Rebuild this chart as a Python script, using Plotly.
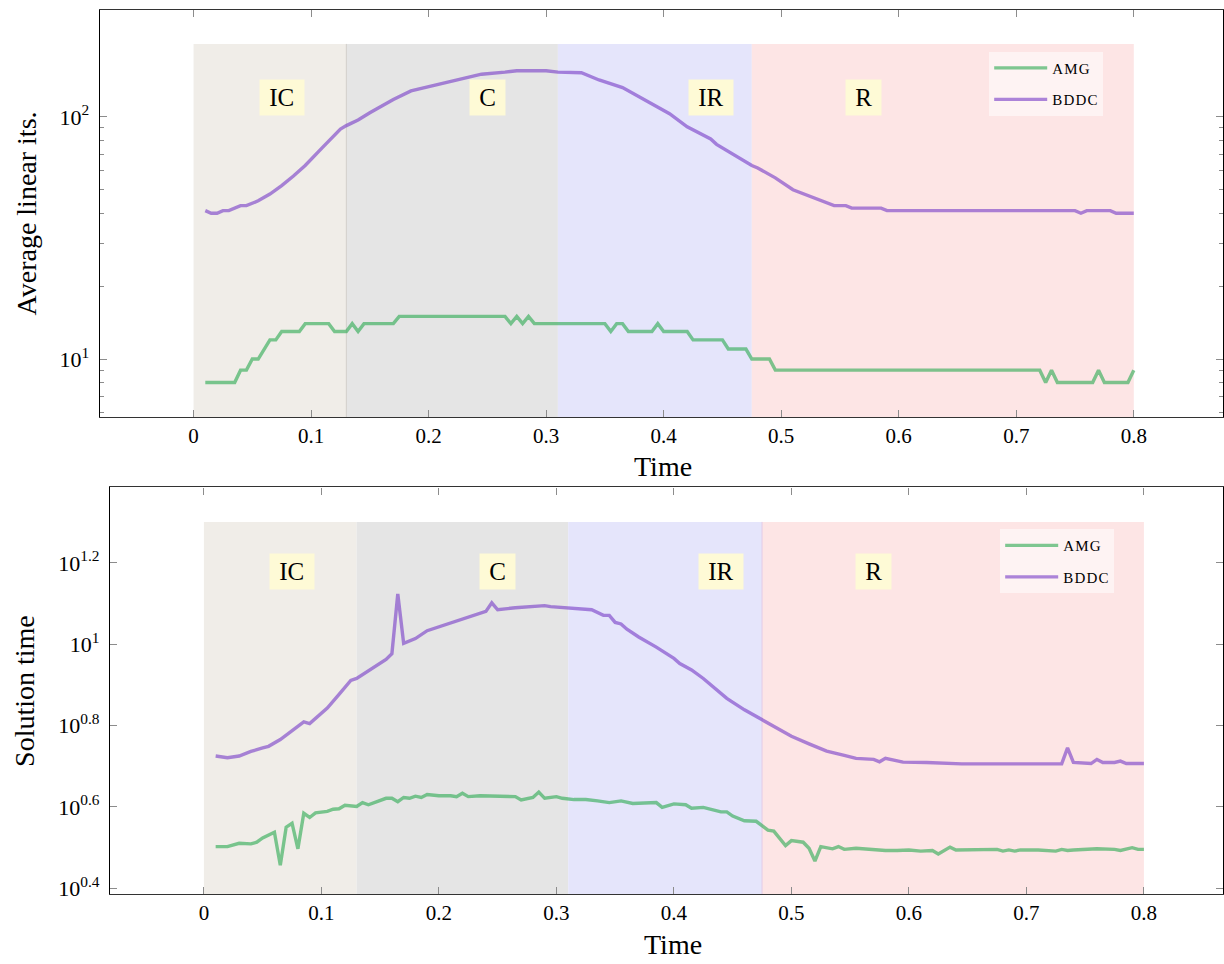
import math
import plotly.graph_objects as go

# ---------------- data ----------------
# Top panel: average linear iterations
amg_its_t = [0.01, 0.035, 0.04, 0.045, 0.05, 0.055, 0.065, 0.07, 0.075, 0.09,
             0.095, 0.115, 0.12, 0.13, 0.135, 0.14, 0.145, 0.17, 0.175, 0.265,
             0.27, 0.275, 0.28, 0.285, 0.29, 0.35, 0.355, 0.36, 0.365, 0.37,
             0.39, 0.395, 0.40, 0.42, 0.425, 0.45, 0.455, 0.47, 0.475, 0.49,
             0.495, 0.72, 0.725, 0.73, 0.735, 0.765, 0.77, 0.775, 0.795, 0.80]
amg_its = [8, 8, 9, 9, 10, 10, 12, 12, 13, 13,
           14, 14, 13, 13, 14, 13, 14, 14, 15, 15,
           14, 15, 14, 15, 14, 14, 13, 14, 14, 13,
           13, 14, 13, 13, 12, 12, 11, 11, 10, 10,
           9, 9, 8, 9, 8, 8, 9, 8, 8, 9]

bddc_its_t = [0.01, 0.015, 0.02, 0.025, 0.03, 0.04, 0.045, 0.055, 0.065, 0.075,
              0.085, 0.095, 0.11, 0.125, 0.13, 0.14, 0.15, 0.16, 0.17, 0.185,
              0.205, 0.23, 0.245, 0.265, 0.275, 0.30, 0.31, 0.33, 0.345, 0.365,
              0.385, 0.405, 0.42, 0.44, 0.445, 0.465, 0.475, 0.48, 0.495, 0.51,
              0.53, 0.545, 0.555, 0.56, 0.585, 0.59, 0.75, 0.755, 0.76, 0.78,
              0.785, 0.80]
bddc_its = [41, 40, 40, 41, 41, 43, 43, 45, 48, 52,
            57, 63, 75, 89, 92, 97, 104, 111, 118, 128,
            135, 145, 150, 153, 155, 155, 153, 152, 142, 132,
            117, 103, 91, 81, 77, 67, 63, 61.5, 56, 50,
            46, 43, 43, 42, 42, 41, 41, 40, 41, 41,
            40, 40]

# Bottom panel: solution time
amg_sol_t = [0.01, 0.02, 0.03, 0.04, 0.045, 0.05, 0.06, 0.065, 0.07, 0.075,
             0.08, 0.085, 0.09, 0.095, 0.105, 0.11, 0.115, 0.12, 0.13, 0.135,
             0.14, 0.15, 0.155, 0.16, 0.165, 0.17, 0.175, 0.18, 0.185, 0.19,
             0.20, 0.21, 0.215, 0.22, 0.225, 0.235, 0.25, 0.265, 0.27, 0.28,
             0.285, 0.29, 0.30, 0.305, 0.315, 0.325, 0.335, 0.345, 0.355, 0.365,
             0.385, 0.39, 0.40, 0.41, 0.415, 0.425, 0.44, 0.445, 0.45, 0.46,
             0.47, 0.48, 0.485, 0.495, 0.50, 0.51, 0.515, 0.52, 0.525, 0.535,
             0.54, 0.545, 0.555, 0.57, 0.58, 0.59, 0.60, 0.61, 0.62, 0.625,
             0.635, 0.64, 0.66, 0.675, 0.68, 0.685, 0.69, 0.695, 0.71, 0.725,
             0.73, 0.735, 0.74, 0.76, 0.775, 0.78, 0.79, 0.795, 0.80]
amg_sol = [3.18, 3.18, 3.24, 3.23, 3.26, 3.34, 3.45, 2.86, 3.55, 3.63,
           3.14, 3.84, 3.75, 3.85, 3.88, 3.93, 3.94, 4.02, 3.99, 4.08,
           4.03, 4.12, 4.18, 4.18, 4.10, 4.20, 4.18, 4.23, 4.20, 4.27,
           4.24, 4.24, 4.22, 4.30, 4.22, 4.24, 4.24, 4.22, 4.14, 4.20,
           4.33, 4.18, 4.22, 4.18, 4.15, 4.15, 4.12, 4.08, 4.12, 4.06,
           4.08, 3.97, 4.05, 4.03, 3.95, 3.97, 3.87, 3.87, 3.78, 3.68,
           3.67, 3.49, 3.47, 3.20, 3.29, 3.26, 3.15, 2.93, 3.18, 3.14,
           3.18, 3.13, 3.15, 3.12, 3.11, 3.11, 3.12, 3.10, 3.11, 3.05,
           3.17, 3.12, 3.12, 3.13, 3.10, 3.12, 3.10, 3.12, 3.12, 3.10,
           3.13, 3.11, 3.12, 3.14, 3.13, 3.11, 3.16, 3.13, 3.13]

bddc_sol_t = [0.01, 0.02, 0.03, 0.04, 0.05, 0.055, 0.065, 0.075, 0.085, 0.09,
              0.095, 0.105, 0.115, 0.12, 0.125, 0.13, 0.145, 0.155, 0.16, 0.165,
              0.17, 0.18, 0.19, 0.21, 0.225, 0.24, 0.245, 0.25, 0.265, 0.28,
              0.29, 0.295, 0.31, 0.33, 0.34, 0.345, 0.35, 0.355, 0.36, 0.37,
              0.385, 0.40, 0.405, 0.415, 0.425, 0.435, 0.445, 0.46, 0.475, 0.485,
              0.50, 0.515, 0.53, 0.545, 0.555, 0.57, 0.575, 0.58, 0.595, 0.615,
              0.645, 0.675, 0.70, 0.73, 0.735, 0.74, 0.755, 0.76, 0.765, 0.775,
              0.78, 0.785, 0.80]
bddc_sol = [5.31, 5.26, 5.31, 5.45, 5.56, 5.61, 5.83, 6.12, 6.44, 6.38,
            6.56, 6.97, 7.53, 7.85, 8.15, 8.24, 8.81, 9.18, 9.48, 13.3,
            10.05, 10.33, 10.8, 11.27, 11.69, 12.05, 12.65, 12.16, 12.3, 12.39,
            12.45, 12.38, 12.3, 12.16, 11.78, 11.78, 11.32, 11.22, 10.89, 10.42,
            9.84, 9.23, 8.97, 8.65, 8.24, 7.8, 7.36, 6.9, 6.52, 6.31,
            5.94, 5.69, 5.46, 5.33, 5.24, 5.21, 5.14, 5.24, 5.13, 5.12,
            5.08, 5.08, 5.08, 5.08, 5.56, 5.12, 5.09, 5.21, 5.12, 5.12,
            5.16, 5.09, 5.09]

# Flow phases
phase_names = ["IC", "C", "IR", "R"]
phase_bounds = [0.0, 0.13, 0.31, 0.475, 0.8]
phase_label_t = [0.075, 0.25, 0.44, 0.57]
its_phase_top = 200
sol_phase_top = 20
its_label_y = 120
sol_label_y = 15.07

# Ticks
x_ticks = [0, 0.1, 0.2, 0.3, 0.4, 0.5, 0.6, 0.7, 0.8]
x_ticktext = ["0", "0.1", "0.2", "0.3", "0.4", "0.5", "0.6", "0.7", "0.8"]
its_ticks = [10, 100]
its_ticktext = ["10<sup>1</sup>", "10<sup>2</sup>"]
its_minor = [6, 7, 8, 9, 20, 30, 40, 50, 60, 70, 80, 90]
sol_exps = [0.4, 0.6, 0.8, 1.0, 1.2]
sol_ticktext = ["10<sup>0.4</sup>", "10<sup>0.6</sup>", "10<sup>0.8</sup>",
                "10<sup>1</sup>", "10<sup>1.2</sup>"]

# ---------------- styles ----------------
W, H = 1224, 964
FONT = "Liberation Serif"
phase_colors = ["#f0ede8", "#e5e5e5", "#e5e5fb", "#fde5e5"]
AMG_COLOR = "rgba(40,169,78,0.6)"
BDDC_COLOR = "rgba(117,56,198,0.6)"
LABEL_BG = "#fefad6"
TICK_COLOR = "#8c8c8c"

fig = go.Figure()

series = [
    (amg_its_t, amg_its, "AMG", AMG_COLOR, "x", "y", "legend"),
    (bddc_its_t, bddc_its, "BDDC", BDDC_COLOR, "x", "y", "legend"),
    (amg_sol_t, amg_sol, "AMG", AMG_COLOR, "x2", "y2", "legend2"),
    (bddc_sol_t, bddc_sol, "BDDC", BDDC_COLOR, "x2", "y2", "legend2"),
]
for t, v, name, col, xa, ya, leg in series:
    fig.add_trace(go.Scatter(
        x=t, y=v, mode="lines", name="\u200a".join(name),
        line=dict(color=col, width=3.4),
        xaxis=xa, yaxis=ya, legend=leg, legendgroup=leg + name,
    ))

# phase shading
for yref, top, low in (("y", its_phase_top, 1), ("y2", sol_phase_top, 1)):
    xref = "x" if yref == "y" else "x2"
    for i in range(len(phase_names)):
        fig.add_shape(type="rect", xref=xref, yref=yref,
                      x0=phase_bounds[i], x1=phase_bounds[i + 1],
                      y0=low, y1=top, fillcolor=phase_colors[i],
                      line=dict(width=0), layer="below")
# faint boundary seams
fig.add_shape(type="line", xref="x", yref="y", x0=phase_bounds[1], x1=phase_bounds[1],
              y0=1, y1=its_phase_top, line=dict(color="#d2cec9", width=1), layer="below")
fig.add_shape(type="line", xref="x2", yref="y2", x0=phase_bounds[3], x1=phase_bounds[3],
              y0=1, y1=sol_phase_top, line=dict(color="#e3cbe6", width=1), layer="below")

# phase labels
for xref, yref, ly in (("x", "y", its_label_y), ("x2", "y2", sol_label_y)):
    for name, lt in zip(phase_names, phase_label_t):
        fig.add_annotation(x=lt, y=math.log10(ly), xref=xref, yref=yref,
                           xanchor="center", yanchor="middle",
                           text="\u00a0" + name + "\u00a0", showarrow=False,
                           font=dict(family=FONT, size=25, color="black"),
                           bgcolor=LABEL_BG, borderpad=3, height=29)

# axis titles
title_font = dict(family=FONT, size=28, color="black")
for text, tx, ty, ang in (("Average linear its.", 26, 215, -90),
                          ("Solution time", 25, 696, -90),
                          ("Time", 664, 470, 0),
                          ("Time", 674, 951, 0)):
    fig.add_annotation(text=text, x=tx / W, y=1 - ty / H, xref="paper", yref="paper",
                       xanchor="center", yanchor="middle", textangle=ang,
                       showarrow=False, font=title_font)

common_x = dict(tickmode="array", tickvals=x_ticks, ticktext=x_ticktext,
                ticks="inside", ticklen=7, tickcolor=TICK_COLOR, tickwidth=1,
                showline=True, linecolor="#333", linewidth=1.2, mirror="allticks",
                showgrid=False, zeroline=False,
                tickfont=dict(family=FONT, size=21, color="black"),
                ticklabelstandoff=0)
common_y = dict(type="log", tickmode="array", ticks="inside", ticklen=7,
                tickcolor=TICK_COLOR, tickwidth=1, showline=True, linecolor="black",
                linewidth=1, mirror="allticks", showgrid=False, zeroline=False,
                tickfont=dict(family=FONT, size=22, color="black"),
                ticklabelstandoff=5)

legend_common = dict(xanchor="left", yanchor="top", bgcolor="rgba(255,255,255,0.55)",
                     font=dict(family=FONT, size=15, color="black"),
                     itemwidth=53, tracegroupgap=9)

fig.update_layout(
    width=W, height=H, margin=dict(l=0, r=0, t=0, b=0),
    paper_bgcolor="white", plot_bgcolor="white",
    xaxis=dict(domain=[99.6 / W, 1], anchor="y", range=[-0.08, 0.8759], **common_x),
    yaxis=dict(domain=[1 - 420 / H, 1 - 10 / H], anchor="x", range=[0.761, 2.4414],
               tickvals=its_ticks, ticktext=its_ticktext,
               minor=dict(tickmode="array", tickvals=its_minor, ticks="inside",
                          ticklen=4, tickcolor=TICK_COLOR),
               **common_y),
    xaxis2=dict(domain=[110 / W, 1], anchor="y2", range=[-0.08, 0.8673], **common_x),
    yaxis2=dict(domain=[1 - 900.7 / H, 1 - 491 / H], anchor="x2", range=[0.3854, 1.3858],
                tickvals=[10 ** e for e in sol_exps], ticktext=sol_ticktext, **common_y),
    legend=dict(x=990 / W, y=1 - 52 / H, **legend_common),
    legend2=dict(x=1001 / W, y=1 - 533 / H, **legend_common),
    font=dict(family=FONT, color="black"),
)

fig.write_html("out.html", config={"displayModeBar": False},
               post_script="document.body.style.margin='0';document.body.style.overflow='hidden';")
